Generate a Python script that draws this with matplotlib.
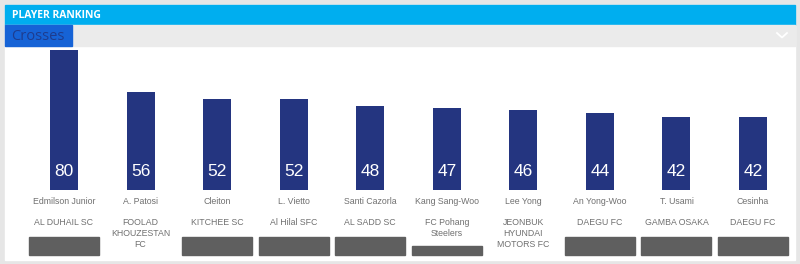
import matplotlib.pyplot as plt
import matplotlib.patches as patches
import matplotlib.transforms as mtransforms

plt.rcParams['font.family'] = ['Liberation Sans', 'DejaVu Sans']

players = ["Edmilson Junior", "A. Patosi", "Cleiton", "L. Vietto", "Santi Cazorla",
           "Kang Sang-Woo", "Lee Yong", "An Yong-Woo", "T. Usami", "Cesinha"]
clubs = ["AL DUHAIL SC", "FOOLAD\nKHOUZESTAN\nFC", "KITCHEE SC", "Al Hilal SFC", "AL SADD SC",
         "FC Pohang\nSteelers", "JEONBUK\nHYUNDAI\nMOTORS FC", "DAEGU FC", "GAMBA OSAKA", "DAEGU FC"]
crosses = [80, 56, 52, 52, 48, 47, 46, 44, 42, 42]
# logo placeholder: 'full', 'short' or None
logos = ["full", None, "full", "full", "full", "short", None, "full", "full", "full"]

W, H = 800, 264
fig = plt.figure(figsize=(8, 2.64), dpi=100)
fig.patch.set_facecolor("#e6e6e6")

# background / decoration axes in pixel coordinates
bg = fig.add_axes([0, 0, 1, 1])
bg.set_xlim(0, W)
bg.set_ylim(H, 0)
bg.axis("off")
bg.add_patch(patches.Rectangle((5, 5), 790, 255, color="white", zorder=0))
bg.add_patch(patches.Rectangle((5, 5), 790, 20, color="#00aeef", zorder=1))
bg.add_patch(patches.Rectangle((5, 25), 790, 21, color="#ebebeb", zorder=1))
bg.add_patch(patches.Rectangle((5, 25), 67, 21, color="#1663d6", zorder=2))
bg.text(12, 15.5, "PLAYER RANKING", color="white", fontsize=7.5, fontweight="bold",
        va="center", ha="left", family=["Open Sans", "DejaVu Sans"])
bg.text(11, 36.5, "Crosses", color="#1e3c8e", fontsize=10.5, va="center", ha="left",
        family=["Open Sans", "DejaVu Sans"])
bg.plot([777, 782, 787], [33, 37.5, 33], color="white", lw=1.3)

# bar axes: x = category index, y = value; 0 at y=190px, 80 at y=50px
step = 76.56
left = 64 - step / 2
ax = fig.add_axes([left / W, (H - 190) / H, 10 * step / W, 140 / H])
ax.set_xlim(-0.5, 9.5)
ax.set_ylim(0, 80)
ax.axis("off")
ax.patch.set_alpha(0)

x = list(range(len(crosses)))
ax.bar(x, crosses, width=28 / step, color="#243580")

trans = mtransforms.blended_transform_factory(ax.transData, bg.transData)
for i, v in enumerate(crosses):
    ax.text(i, 172, str(v), transform=trans, color="white", fontsize=12.5,
            ha="center", va="center")
    ax.text(i, 201.5, players[i], transform=trans, color="#707070", fontsize=6.3,
            ha="center", va="center")
    ax.text(i, 218, clubs[i], transform=trans, color="#707070", fontsize=6.3,
            ha="center", va="top", linespacing=1.3)
    half = 35 / step
    if logos[i] == "full":
        ax.add_patch(patches.Rectangle((i - half, 255), 2 * half, -18, transform=trans,
                                       color="#5f5f5f", clip_on=False))
    elif logos[i] == "short":
        ax.add_patch(patches.Rectangle((i - half, 255), 2 * half, -9, transform=trans,
                                       color="#5f5f5f", clip_on=False))

fig.savefig("out.png", dpi=100)
